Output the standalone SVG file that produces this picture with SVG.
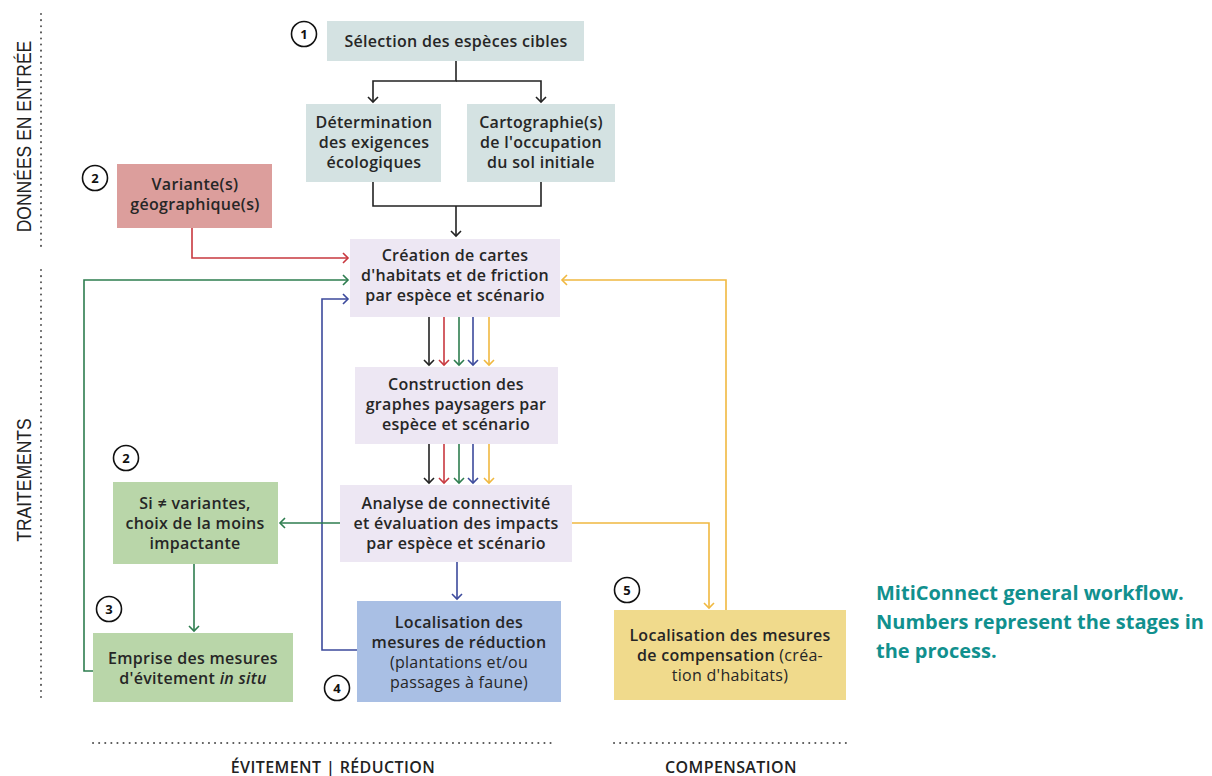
<svg xmlns="http://www.w3.org/2000/svg" width="1212" height="776" viewBox="0 0 1212 776">
<style>
  .t{font-family:"Open Sans","Noto Sans",Lato,sans-serif;font-size:16px;fill:#262626;text-anchor:middle;font-weight:600;letter-spacing:0.3px}
  .lt{font-weight:400}
  .num{font-family:"Open Sans","Noto Sans",sans-serif;font-size:13px;font-weight:700;fill:#111;text-anchor:middle}
  .circ{fill:#fff;stroke:#111;stroke-width:1.6}
  .sec{font-family:"Open Sans","Noto Sans",sans-serif;font-size:16px;fill:#222;text-anchor:middle;font-weight:600;letter-spacing:0.4px}
  .vsec{font-family:"Liberation Sans",Arial,sans-serif;font-size:17px;fill:#222;text-anchor:middle}
  .cap{font-family:"Open Sans","Liberation Sans",sans-serif;font-size:20px;font-weight:700;fill:#11908e}
  .dots{stroke:#555;stroke-width:2;stroke-dasharray:0.1 6;stroke-linecap:round;fill:none}
  .c{fill:none;stroke-width:1.6}
  .k{stroke:#222}.r{stroke:#c8383f}.g{stroke:#2e7d4f}.b{stroke:#3c4a9c}.y{stroke:#f0b840}
</style>
<defs>
  <marker id="ak" markerWidth="10" markerHeight="12" refX="6" refY="6" orient="auto" markerUnits="userSpaceOnUse"><path d="M1,1 L6,6 L1,11" fill="none" stroke="#222" stroke-width="1.6"/></marker>
  <marker id="ar" markerWidth="10" markerHeight="12" refX="6" refY="6" orient="auto" markerUnits="userSpaceOnUse"><path d="M1,1 L6,6 L1,11" fill="none" stroke="#c8383f" stroke-width="1.6"/></marker>
  <marker id="ag" markerWidth="10" markerHeight="12" refX="6" refY="6" orient="auto" markerUnits="userSpaceOnUse"><path d="M1,1 L6,6 L1,11" fill="none" stroke="#2e7d4f" stroke-width="1.6"/></marker>
  <marker id="ab" markerWidth="10" markerHeight="12" refX="6" refY="6" orient="auto" markerUnits="userSpaceOnUse"><path d="M1,1 L6,6 L1,11" fill="none" stroke="#3c4a9c" stroke-width="1.6"/></marker>
  <marker id="ay" markerWidth="10" markerHeight="12" refX="6" refY="6" orient="auto" markerUnits="userSpaceOnUse"><path d="M1,1 L6,6 L1,11" fill="none" stroke="#f0b840" stroke-width="1.6"/></marker>
</defs>
<rect width="1212" height="776" fill="#fff"/>

<!-- section labels and dividers -->
<g id="sections">
  <line class="dots" x1="41" y1="14" x2="41" y2="248"/>
  <line class="dots" x1="41" y1="270" x2="41" y2="700"/>
  <text class="vsec" transform="translate(31,136.5) rotate(-90) scale(1.03,1.2)">DONNÉES EN ENTRÉE</text>
  <text class="vsec" transform="translate(31,480) rotate(-90) scale(1.03,1.2)">TRAITEMENTS</text>
  <line class="dots" x1="93" y1="743" x2="554" y2="743"/>
  <line class="dots" x1="614" y1="743" x2="848" y2="743"/>
  <text class="sec" x="333" y="773">ÉVITEMENT | RÉDUCTION</text>
  <text class="sec" x="731" y="773">COMPENSATION</text>
</g>

<!-- connectors -->
<g id="connectors">
  <path class="c k" d="M456,61 V81 H373 V102" marker-end="url(#ak)"/>
  <path class="c k" d="M456,81 H541 V102" marker-end="url(#ak)"/>
  <path class="c k" d="M373,182 V206 H541 V182"/>
  <path class="c k" d="M456,206 V236" marker-end="url(#ak)"/>
  <path class="c r" d="M192,228 V258 H348" marker-end="url(#ar)"/>
  <path class="c g" d="M93,671 H84 V280 H348" marker-end="url(#ag)"/>
  <path class="c b" d="M358,650 H322 V299 H348" marker-end="url(#ab)"/>
  <path class="c y" d="M726,610 V280 H562" marker-end="url(#ay)"/>
  <path class="c k" d="M429,317 V365" marker-end="url(#ak)"/>
  <path class="c r" d="M444,317 V365" marker-end="url(#ar)"/>
  <path class="c g" d="M459,317 V365" marker-end="url(#ag)"/>
  <path class="c b" d="M473,317 V365" marker-end="url(#ab)"/>
  <path class="c y" d="M489,317 V365" marker-end="url(#ay)"/>
  <path class="c k" d="M429,444 V483" marker-end="url(#ak)"/>
  <path class="c r" d="M444,444 V483" marker-end="url(#ar)"/>
  <path class="c g" d="M459,444 V483" marker-end="url(#ag)"/>
  <path class="c b" d="M473,444 V483" marker-end="url(#ab)"/>
  <path class="c y" d="M489,444 V483" marker-end="url(#ay)"/>
  <path class="c g" d="M340,523 H280" marker-end="url(#ag)"/>
  <path class="c g" d="M194,564 V631" marker-end="url(#ag)"/>
  <path class="c b" d="M457,562 V599" marker-end="url(#ab)"/>
  <path class="c y" d="M572,523 H709 V608" marker-end="url(#ay)"/>
</g>

<g id="n1">
  <circle class="circ" cx="304" cy="34" r="12.5"/><text class="num" x="304" y="39">1</text>
  <rect x="327" y="21" width="257" height="40" fill="#d4e2e2"/>
  <text class="t" x="456" y="47">Sélection des espèces cibles</text>
</g>
<g id="n-determination">
  <rect x="306" y="104" width="135" height="78" fill="#d4e2e2"/>
  <text class="t" x="374" y="128">Détermination</text>
  <text class="t" x="374" y="148">des exigences</text>
  <text class="t" x="374" y="168">écologiques</text>
</g>
<g id="n-cartographie">
  <rect x="467" y="104" width="148" height="78" fill="#d4e2e2"/>
  <text class="t" x="541" y="128">Cartographie(s)</text>
  <text class="t" x="541" y="148">de l'occupation</text>
  <text class="t" x="541" y="168">du sol initiale</text>
</g>
<g id="n2-variante">
  <circle class="circ" cx="95" cy="178" r="12.5"/><text class="num" x="95" y="183">2</text>
  <rect x="117" y="164" width="155" height="64" fill="#dc9e9c"/>
  <text class="t" x="195" y="190">Variante(s)</text>
  <text class="t" x="195" y="210">géographique(s)</text>
</g>
<g id="n-creation">
  <rect x="350" y="239" width="210" height="78" fill="#ede7f3"/>
  <text class="t" x="455" y="261">Création de cartes</text>
  <text class="t" x="455" y="281">d'habitats et de friction</text>
  <text class="t" x="455" y="301">par espèce et scénario</text>
</g>
<g id="n-construction">
  <rect x="355" y="367" width="203" height="77" fill="#ede7f3"/>
  <text class="t" x="456" y="390">Construction des</text>
  <text class="t" x="456" y="410">graphes paysagers par</text>
  <text class="t" x="456" y="430">espèce et scénario</text>
</g>
<g id="n-analyse">
  <rect x="340" y="485" width="232" height="77" fill="#ede7f3"/>
  <text class="t" x="456" y="509">Analyse de connectivité</text>
  <text class="t" x="456" y="529">et évaluation des impacts</text>
  <text class="t" x="456" y="549">par espèce et scénario</text>
</g>
<g id="n2-choix">
  <circle class="circ" cx="126" cy="458" r="12.5"/><text class="num" x="126" y="463">2</text>
  <rect x="113" y="482" width="165" height="82" fill="#b9d6a9"/>
  <text class="t" x="195" y="509">Si ≠ variantes,</text>
  <text class="t" x="195" y="529">choix de la moins</text>
  <text class="t" x="195" y="549">impactante</text>
</g>
<g id="n3-emprise">
  <circle class="circ" cx="109" cy="609" r="12.5"/><text class="num" x="109" y="614">3</text>
  <rect x="93" y="633" width="200" height="69" fill="#b9d6a9"/>
  <text class="t" x="193" y="664">Emprise des mesures</text>
  <text class="t" x="193" y="684">d'évitement <tspan font-style="italic">in situ</tspan></text>
</g>
<g id="n4-reduction">
  <circle class="circ" cx="337" cy="688" r="12.5"/><text class="num" x="337" y="693">4</text>
  <rect x="357" y="601" width="204" height="101" fill="#a9bfe4"/>
  <text class="t" x="459" y="628">Localisation des</text>
  <text class="t" x="459" y="648">mesures de réduction</text>
  <text class="t lt" x="459" y="668">(plantations et/ou</text>
  <text class="t lt" x="459" y="688">passages à faune)</text>
</g>
<g id="n5-compensation">
  <circle class="circ" cx="627" cy="590" r="12.5"/><text class="num" x="627" y="595">5</text>
  <rect x="614" y="610" width="232" height="90" fill="#f0da8c"/>
  <text class="t" x="730" y="641">Localisation des mesures</text>
  <text class="t" x="730" y="661">de compensation <tspan class="lt">(créa-</tspan></text>
  <text class="t lt" x="730" y="681">tion d'habitats)</text>
</g>

<g id="caption">
  <text class="cap" x="876" y="600">MitiConnect general workflow.</text>
  <text class="cap" x="876" y="629">Numbers represent the stages in</text>
  <text class="cap" x="876" y="658">the process.</text>
</g>
</svg>
